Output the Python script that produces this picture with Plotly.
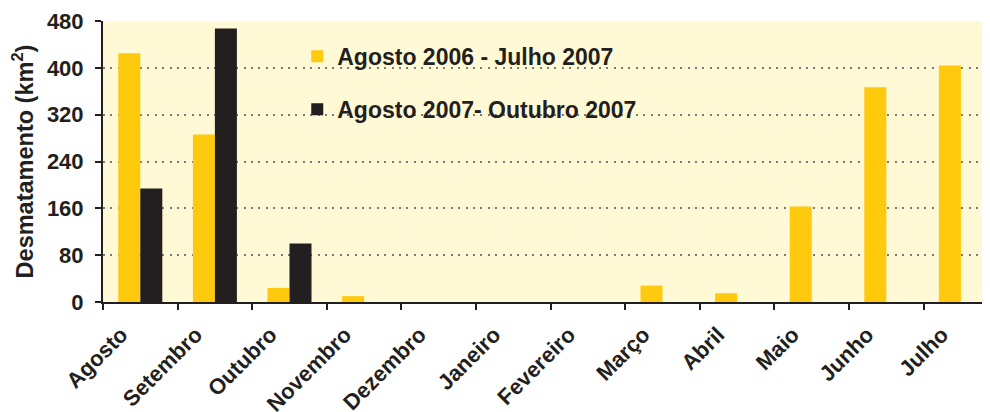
import plotly.graph_objects as go

months = ["Agosto", "Setembro", "Outubro", "Novembro", "Dezembro", "Janeiro",
          "Fevereiro", "Março", "Abril", "Maio", "Junho", "Julho"]
serie_2006_2007 = [425, 286, 24, 10, 0, 0, 0, 28, 15, 163, 367, 404]
serie_2007 = [194, 467, 100, None, None, None, None, None, None, None, None, None]
name_a = "Agosto 2006 - Julho 2007"
name_b = "Agosto 2007- Outubro 2007"
y_ticks = [0, 80, 160, 240, 320, 400, 480]

YELLOW = "#FFC90D"
DARK = "#231F20"
BG = "#FFF9D6"
FONT = "Liberation Sans, Arial, Helvetica, sans-serif"

fig = go.Figure()
fig.add_trace(go.Bar(x=months, y=serie_2006_2007, name=name_a,
                     marker=dict(color=YELLOW, line=dict(width=0)), legend="legend"))
fig.add_trace(go.Bar(x=months, y=serie_2007, name=name_b,
                     marker=dict(color=DARK, line=dict(width=0)), legend="legend2"))

legfont = dict(family=FONT, size=23, color=DARK, weight="bold")
fig.update_layout(
    width=982, height=404,
    margin=dict(l=95, r=0, t=13, b=110, autoexpand=False),
    paper_bgcolor="white", plot_bgcolor=BG,
    barmode="group", bargap=0.41, bargroupgap=0,
    font=dict(family=FONT, color=DARK),
    showlegend=True,
    legend=dict(x=0.219, y=0.874, xanchor="left", yanchor="middle",
                bgcolor="rgba(0,0,0,0)", font=legfont, itemwidth=30),
    legend2=dict(x=0.219, y=0.686, xanchor="left", yanchor="middle",
                 bgcolor="rgba(0,0,0,0)", font=legfont, itemwidth=30),
    xaxis=dict(type="category", range=[-0.5, 11.39], tickson="boundaries",
               ticks="outside", ticklen=6, tickwidth=2, tickcolor=DARK,
               showline=True, linewidth=2, linecolor=DARK, tickangle=-45,
               ticklabelshift=-19, ticklabelstandoff=9, automargin=False,
               tickfont=dict(family=FONT, size=22, color=DARK, weight="bold"),
               showgrid=False),
    yaxis=dict(range=[0, 480], tickvals=y_ticks, ticks="outside", ticklen=6,
               tickwidth=2, tickcolor=DARK, showline=True, linewidth=2, linecolor=DARK,
               showgrid=True, gridcolor="#7a7a7a", griddash="2px,5.4px", gridwidth=1.6,
               zeroline=False, automargin=False, ticklabelstandoff=7,
               tickfont=dict(family=FONT, size=22, color=DARK, weight="bold"),
               title=dict(text="Desmatamento (km<sup>2</sup>)", standoff=10,
                          font=dict(family=FONT, size=23.5, color=DARK, weight="bold"))),
)
fig.write_html("out.html")
